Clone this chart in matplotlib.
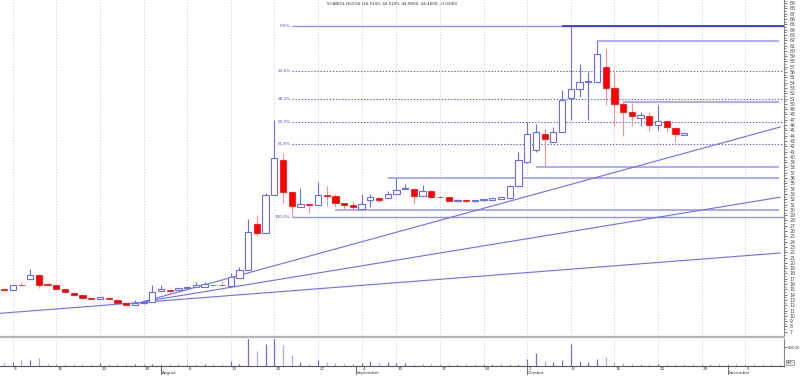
import matplotlib
matplotlib.use("Agg")
import matplotlib.pyplot as plt
import numpy as np
from matplotlib.patches import Rectangle
from matplotlib.transforms import blended_transform_factory

# ---------------- data ----------------
title = "SCANDIL HLDGS (44.5100, 44.5100, 44.0800, 44.4800, -0.0290)"

opens = [15.1, 14.9, 15.9, 17.0, 17.8, 16.0, 15.9, 15.0, 14.4, 13.9,
         13.35, 13.2, 13.3, 12.9, 12.4, 12.0, 12.4, 12.7, 14.7, 14.9,
         14.8, 15.3, 15.4, 15.5, 15.9, 15.85, 15.6, 17.1, 18.65, 27.3,
         25.6, 32.8, 39.5, 33.3, 30.5, 31.2, 30.9, 32.8, 32.6, 31.35,
         31.0, 30.2, 31.8, 32.2, 32.2, 33.0, 33.9, 33.9, 32.7, 33.6,
         32.5, 32.4, 31.7, 31.9, 31.6, 31.8, 31.9, 32.1, 32.3, 34.5,
         39.0, 41.3, 44.4, 42.9, 44.6, 51.2, 52.8, 54.1, 54.1, 57.0,
         53.05, 50.0, 48.4, 47.3, 47.8, 46.1, 46.8, 45.4, 44.1]
highs = [15.2, 15.9, 16.4, 18.9, 17.9, 16.0, 15.9, 15.0, 14.4, 13.9,
         13.4, 13.5, 13.3, 12.9, 12.4, 13.0, 12.6, 15.8, 15.9, 14.9,
         15.2, 15.5, 16.4, 16.4, 15.9, 16.6, 18.0, 19.2, 28.2, 29.0,
         33.2, 47.0, 40.8, 33.3, 34.1, 31.2, 35.3, 34.5, 32.9, 31.35,
         31.7, 33.0, 32.9, 32.4, 33.6, 36.1, 34.9, 33.9, 34.7, 33.8,
         32.7, 32.5, 32.0, 32.0, 31.9, 32.1, 32.3, 32.5, 34.7, 41.0,
         46.5, 46.2, 45.4, 45.7, 52.6, 64.65, 57.5, 56.1, 61.9, 60.5,
         56.1, 50.4, 50.2, 48.5, 48.5, 49.8, 46.8, 45.4, 44.51]
lows = [14.8, 14.8, 15.7, 16.9, 15.3, 15.8, 15.0, 14.4, 13.9, 13.2,
        13.2, 13.2, 13.1, 12.4, 12.0, 12.0, 12.2, 12.6, 14.7, 14.2,
        14.8, 15.3, 15.4, 15.5, 15.7, 15.7, 15.6, 17.1, 18.6, 25.0,
        25.6, 32.8, 31.35, 28.65, 30.5, 29.35, 30.9, 30.8, 30.5, 30.1,
        30.0, 30.2, 30.6, 31.7, 32.2, 33.0, 33.9, 31.2, 32.7, 32.3,
        32.2, 31.6, 31.6, 31.5, 31.5, 31.7, 31.8, 32.0, 32.2, 34.3,
        38.8, 41.0, 38.1, 42.9, 44.6, 47.0, 51.35, 47.0, 54.1, 49.8,
        45.8, 43.9, 45.8, 45.8, 44.9, 45.1, 44.6, 42.9, 44.08]
closes = [14.9, 15.8, 15.8, 17.8, 15.9, 15.9, 15.1, 14.5, 14.0, 13.3,
          13.25, 13.5, 13.2, 12.4, 12.0, 12.5, 12.6, 14.5, 15.0, 14.6,
          15.2, 15.5, 15.9, 16.0, 15.75, 15.75, 17.3, 18.65, 25.9, 25.6,
          32.8, 39.7, 33.4, 30.7, 31.2, 30.9, 32.75, 32.6, 31.35, 30.9,
          30.5, 31.2, 32.4, 31.8, 33.0, 33.75, 34.2, 32.6, 33.6, 32.5,
          32.4, 31.7, 31.9, 31.6, 31.8, 32.0, 32.2, 32.4, 34.5, 39.5,
          44.3, 44.6, 43.4, 44.6, 50.7, 52.8, 54.1, 54.3, 59.5, 53.05,
          50.0, 48.4, 47.8, 47.95, 46.0, 46.7, 45.6, 44.25, 44.48]
volumes = [6750, 10000, 15000, 15000, 21750, 4250, 4250, 1750, 5750, 5750,
           1750, 9250, 2500, 1250, 1250, 5750, 750, 5750, 3250, 3250,
           1750, 1750, 1750, 4250, 4250, 4250, 13250, 5750, 77500, 40000,
           59250, 78250, 55000, 29250, 10750, 5750, 15000, 10000, 8250, 5750,
           300, 9250, 12500, 7500, 11750, 8250, 8250, 2500, 1750, 5000,
           5750, 5750, 2500, 1750, 2500, 1750, 3250, 3250, 1750, 3250,
           17500, 34250, 13250, 10750, 16750, 59250, 13250, 10000, 19250, 23250,
           10750, 9250, 2500, 3250, 3250, 5750, 3250, 3250, 1750]

fib_high = 64.65
fib_low = 28.65
fib_ratios = [0.0, 0.236, 0.382, 0.5, 0.618, 1.0]
fib_labels = ["0.0%", "23.6%", "38.2%", "50.0%", "61.8%", "100.0%"]
fib_start = 33

# support / resistance lines: (start day, level)
sr_starts = [44, 61, 68, 71, 38]
sr_levels = [36.1, 38.1, 61.9, 50.4, 29.9]
top_line_start = 64

# trend lines: (day0, price0, day1, price1)
trend_x0 = [15.94, 15.94, -0.46]
trend_y0 = [12.67, 12.67, 10.48]
trend_x1 = [89.0, 89.0, 89.0]
trend_y1 = [45.63, 32.39, 21.86]

week_days = [1, 6, 11, 16, 21, 26, 31, 36, 41, 45, 50, 55, 60, 65, 70, 75, 80, 85]
week_labels = ["9", "16", "23", "30", "6", "13", "20", "27", "4", "10",
               "17", "24", "1", "8", "15", "22", "29", "5"]
month_days = [18, 40.4, 60, 83]
month_labels = ["August", "September", "October", "November"]

# ---------------- figure ----------------
W, H = 800, 376
fig = plt.figure(figsize=(W / 100, H / 100), dpi=100)
fig.patch.set_facecolor("white")

ax_right_px = 784
ax = fig.add_axes([0, 40 / H, ax_right_px / W, 336 / H])
vax = fig.add_axes([0, 10 / H, ax_right_px / W, 27 / H])

xmin, xmax = -0.46, 89.45
for a in (ax, vax):
    a.set_xlim(xmin, xmax)
    a.set_facecolor("none")
    for s in ("top", "left"):
        a.spines[s].set_visible(False)
    a.spines["right"].set_color("#888888")
    a.spines["right"].set_linewidth(0.8)

ax.set_ylim(6.2, 69.6)
ax.spines["bottom"].set_visible(False)

n = len(opens)
days = np.arange(n)
up_col = "#6a6aff"
dn_col = "#ff0000"
dn_wick = "#ff9090"
bw = 0.72

# vertical dotted gridlines
for d in week_days:
    for a in (ax, vax):
        a.axvline(d, color="#cfcfcf", lw=0.6, ls=(0, (1.5, 2)), zorder=0)

# fib lines
for r, lab in zip(fib_ratios, fib_labels):
    lvl = fib_high - r * (fib_high - fib_low)
    if r in (0.0, 1.0):
        ax.hlines(lvl, fib_start, xmax, color="#8f8fff", lw=1.0, zorder=1)
    else:
        ax.hlines(lvl, fib_start, xmax, color="#5a5aee", lw=0.8,
                  linestyles=(0, (1.2, 1.6)), zorder=1)
    ax.text(fib_start - 0.15, lvl, lab, fontsize=3.0, color="#4a4ae0",
            ha="right", va="center", zorder=3)

# top resistance line (darker)
ax.hlines(fib_high, top_line_start, xmax, color="#2a2aff", lw=1.2, zorder=2)

# s/r lines
for s0, lv in zip(sr_starts, sr_levels):
    ax.hlines(lv, s0, 88.9, color="#a5a5ff", lw=1.3, zorder=1)

# trend lines
for x0, y0, x1, y1 in zip(trend_x0, trend_y0, trend_x1, trend_y1):
    ax.plot([x0, x1], [y0, y1], color="#6c6cff", lw=0.8, zorder=1)

# candles
for i in range(n):
    o, h, l, c = opens[i], highs[i], lows[i], closes[i]
    if c >= o:
        ax.vlines(i, l, h, color=up_col, lw=0.8, zorder=4)
        ax.add_patch(Rectangle((i - bw / 2, o), bw, max(c - o, 0.05),
                               facecolor="white", edgecolor=up_col, lw=0.8,
                               zorder=5))
    else:
        ax.vlines(i, l, h, color=dn_wick, lw=0.8, zorder=4)
        ax.add_patch(Rectangle((i - bw / 2, c), bw, max(o - c, 0.05),
                               facecolor=dn_col, edgecolor=dn_col, lw=0.5,
                               zorder=5))

# title
fig.text(392 / W, 1 - 4 / H, title, fontsize=3.0, ha="center", va="center",
         color="#333333")

# right axis ticks
ax.yaxis.tick_right()
ax.set_yticks(np.arange(7, 70, 1))
ax.set_yticklabels([str(v) for v in range(7, 70)])
ax.set_yticks(np.arange(7.5, 69.6, 1), minor=True)
ax.tick_params(axis="y", which="major", labelsize=3.3, length=2.5, width=0.5,
               pad=1.5, colors="#444444")
ax.tick_params(axis="y", which="minor", length=1.5, width=0.5, colors="#666666")
ax.set_xticks([])

# volume
vax.set_ylim(0, 72000)
vcols = [up_col if closes[i] >= opens[i] else "#a9a9ff" for i in range(n)]
vax.vlines(days, 0, volumes, colors=vcols, lw=0.9, zorder=3)
vax.yaxis.tick_right()
vax.set_yticks([50000])
vax.set_yticklabels(["50000"])
vax.tick_params(axis="y", labelsize=2.9, length=2.0, width=0.5, pad=0.8,
                colors="#444444")
vax.spines["bottom"].set_color("#555555")
vax.spines["bottom"].set_linewidth(0.8)
vax.set_xticks(np.arange(0, 90, 1), minor=True)
vax.set_xticks([])
vax.tick_params(axis="x", which="minor", direction="in", length=1.5, width=0.5,
                colors="#777777")
vax.text(1.003, 0.12, "(M)", transform=vax.transAxes, fontsize=3.0,
         ha="left", va="center", color="#333333",
         bbox=dict(boxstyle="square,pad=0.1", fc="white", ec="#555555", lw=0.4))

# separator between panels
fig.add_artist(plt.Line2D([0, ax_right_px / W], [1 - 336.5 / H, 1 - 336.5 / H],
                          color="#b5b5b5", lw=1.6, transform=fig.transFigure))

# date labels
tr = blended_transform_factory(vax.transData, fig.transFigure)
for d, lab in zip(week_days, week_labels):
    vax.text(d + 0.15, 1 - 366.5 / H, lab, transform=tr, fontsize=3.0,
             ha="left", va="top", color="#333333")
for d, lab in zip(month_days, month_labels):
    vax.plot([d, d], [1 - 366 / H, 1 - 374 / H], transform=tr,
             color="#555555", lw=0.6, clip_on=False)
    vax.text(d + 0.1, 1 - 371.3 / H, lab, transform=tr, fontsize=3.0,
             ha="left", va="top", color="#333333")

fig.savefig("out.png", dpi=100, facecolor="white")
